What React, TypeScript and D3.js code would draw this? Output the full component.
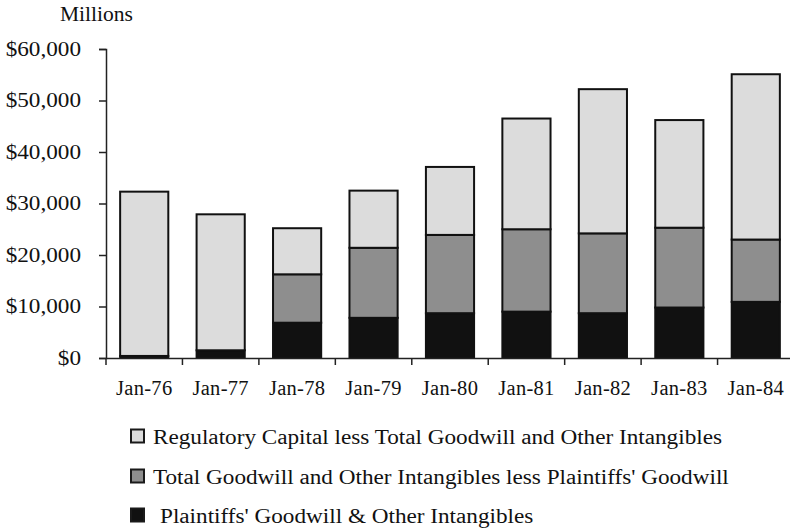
import * as d3 from 'd3';
import { useEffect, useRef } from 'react';

const categories = ['Jan-76', 'Jan-77', 'Jan-78', 'Jan-79', 'Jan-80', 'Jan-81', 'Jan-82', 'Jan-83', 'Jan-84'];
const plaintiffs = [400, 1500, 6850, 7800, 8700, 9000, 8700, 9800, 10900];
const totalLessPlaintiffs = [0, 0, 9400, 13600, 15200, 16000, 15500, 15500, 12100];
const regulatoryLessTotal = [31900, 26400, 8950, 11100, 13200, 21500, 28000, 20900, 32100];
const yTicks = [0, 10000, 20000, 30000, 40000, 50000, 60000];
const seriesNames = [
  'Regulatory Capital less Total Goodwill and Other Intangibles',
  "Total Goodwill and Other Intangibles less Plaintiffs' Goodwill",
  "Plaintiffs' Goodwill & Other Intangibles",
];

const colors = ['#111111', '#8e8e8e', '#dcdcdc'];
const font = "'Liberation Serif', 'Times New Roman', serif";
// the scanned text is a little wider than the font
const stretch = 1.16;

function Chart() {
  const svgElement = useRef<SVGSVGElement | null>(null);

  useEffect(() => {
    const svg = d3.select(svgElement.current);
    svg.selectAll('*').remove();

    const left = 106;
    const right = 794;
    const bottom = 358;
    const top = 49;

    const x = d3.scaleBand<string>().domain(categories).range([left, right]).paddingInner(0.37).paddingOuter(0.185);
    const y = d3.scaleLinear().domain([0, 60000]).range([bottom, top]);

    const rows = categories.map((c, i) => ({
      cat: c,
      a: plaintiffs[i],
      b: totalLessPlaintiffs[i],
      c: regulatoryLessTotal[i],
    }));
    const stack = d3.stack<any>().keys(['a', 'b', 'c'])(rows);

    // Millions label
    svg
      .append('text')
      .attr('x', 60)
      .attr('y', 21)
      .attr('font-family', font)
      .attr('font-size', 21.5)
      .attr('fill', '#111')
      .text('Millions');

    // Y axis
    const yAxis = svg
      .append('g')
      .attr('transform', `translate(${left},0)`)
      .call(
        d3
          .axisLeft(y)
          .tickValues(yTicks)
          .tickSize(7)
          .tickPadding(18)
          .tickFormat((d) => '$' + d3.format(',')(d as number)),
      );
    yAxis.select('.domain').attr('stroke', '#222').attr('stroke-width', 1.5);
    yAxis.selectAll('.tick line').attr('stroke', '#222').attr('stroke-width', 1.5);
    yAxis
      .selectAll('.tick text')
      .attr('font-family', font)
      .attr('font-size', 20)
      .attr('fill', '#111')
      .attr('x', -25 / stretch)
      .attr('transform', `scale(${stretch},1)`);

    // Bars
    const groups = svg
      .append('g')
      .selectAll('g')
      .data(stack)
      .join('g')
      .attr('fill', (_, i) => colors[i]);

    groups
      .selectAll('rect')
      .data((d) => d.filter((s) => s[1] - s[0] > 0))
      .join('rect')
      .attr('x', (d) => x(d.data.cat) ?? 0)
      .attr('y', (d) => y(d[1]))
      .attr('width', x.bandwidth())
      .attr('height', (d) => y(d[0]) - y(d[1]))
      .attr('stroke', '#111')
      .attr('stroke-width', 2);

    // X axis
    const xAxis = svg
      .append('g')
      .attr('transform', `translate(0,${bottom})`)
      .call(d3.axisBottom(x).tickSize(0).tickPadding(22));
    xAxis.select('.domain').attr('stroke', '#222').attr('stroke-width', 1.5);
    xAxis
      .selectAll('.tick text')
      .attr('font-family', font)
      .attr('font-size', 20.5)
      .attr('letter-spacing', 0.3)
      .attr('fill', '#111');

    const step = x.step();
    const gap = (step - x.bandwidth()) / 2;
    xAxis
      .selectAll('.boundary')
      .data(categories)
      .join('line')
      .attr('class', 'boundary')
      .attr('x1', (d) => (x(d) ?? 0) - gap)
      .attr('x2', (d) => (x(d) ?? 0) - gap)
      .attr('y1', 0)
      .attr('y2', 7)
      .attr('stroke', '#222')
      .attr('stroke-width', 1.5);

    // Legend
    const legendY = [436, 476, 515];
    const legendColors = [colors[2], colors[1], colors[0]];
    const legend = svg
      .append('g')
      .selectAll('g')
      .data(seriesNames)
      .join('g')
      .attr('transform', (_, i) => `translate(131,${legendY[i]})`);
    legend
      .append('rect')
      .attr('x', 0)
      .attr('y', -6.5)
      .attr('width', 13)
      .attr('height', 13)
      .attr('fill', (_, i) => legendColors[i])
      .attr('stroke', '#1a1a1a')
      .attr('stroke-width', 2);
    legend
      .append('text')
      .attr('x', (_, i) => (i === 2 ? 29 : 22) / stretch)
      .attr('y', 7.5)
      .attr('transform', `scale(${stretch},1)`)
      .attr('font-family', font)
      .attr('font-size', 20)
      .attr('fill', '#111')
      .text((d) => d);
  }, []);

  return <svg ref={svgElement} width={790} height={529} style={{ display: 'block' }} />;
}

export default function App() {
  return (
    <div style={{ position: 'fixed', left: 0, top: 0, width: 790, height: 529, overflow: 'hidden', background: '#fff' }}>
      <Chart />
    </div>
  );
}
